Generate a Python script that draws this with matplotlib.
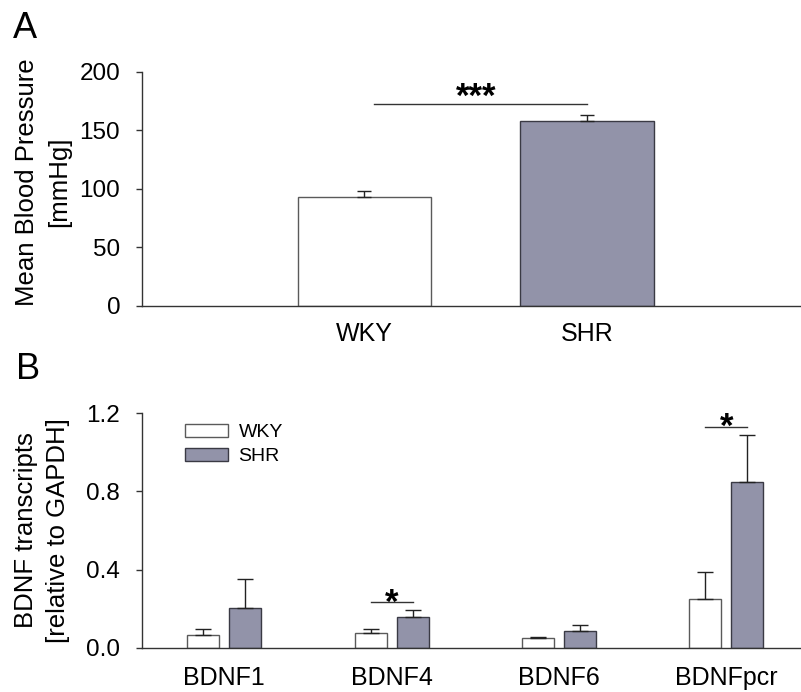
import matplotlib
matplotlib.use("Agg")
import matplotlib.pyplot as plt
import numpy as np

plt.rcParams['font.family'] = ['Liberation Sans', 'DejaVu Sans']

# panel A - mean blood pressure
groups_a = ["WKY", "SHR"]
bp_mean = [93.4, 157.7]
bp_sem = [4.6, 5.5]

# panel B - BDNF transcripts
transcripts = ["BDNF1", "BDNF4", "BDNF6", "BDNFpcr"]
wky_mean = [0.063, 0.077, 0.048, 0.251]
wky_sem = [0.033, 0.017, 0.008, 0.138]
shr_mean = [0.205, 0.159, 0.085, 0.847]
shr_sem = [0.145, 0.034, 0.031, 0.241]

WKY_FILL = "white"
SHR_FILL = "#9293a9"
EDGE_WKY = "#5a5a5a"
EDGE_SHR = "#3a3a44"
AXC = "#333333"

fig = plt.figure(figsize=(8.01, 6.92), dpi=100)


def style_axes(ax, pad_x):
    for s in ["top", "right"]:
        ax.spines[s].set_visible(False)
    for s in ["left", "bottom"]:
        ax.spines[s].set_color(AXC)
        ax.spines[s].set_linewidth(1.0)
    ax.tick_params(axis="y", direction="out", length=4.5, width=1.0,
                   color=AXC, labelsize=17.5, pad=11)
    ax.tick_params(axis="x", length=0, labelsize=18, pad=pad_x)


# ---- panel A ----
axA = fig.add_axes([141.7 / 801, 1 - 305.7 / 692, 1 - 141.7 / 801, 233.7 / 692])
xa = np.arange(1, len(groups_a) + 1)
axA.bar(xa, bp_mean, width=0.6, color=[WKY_FILL, SHR_FILL],
        edgecolor=[EDGE_WKY, EDGE_SHR], linewidth=1.0, zorder=2)
axA.errorbar(xa, bp_mean, yerr=[np.zeros(len(xa)), bp_sem], fmt="none",
             ecolor="#222222", elinewidth=1.0, capsize=5, capthick=1.0, zorder=3)
axA.set_xlim(0, 2.96)
axA.set_ylim(0, 200)
axA.set_yticks([0, 50, 100, 150, 200])
axA.set_xticks(xa)
axA.set_xticklabels(groups_a)
style_axes(axA, 11.5)
axA.set_ylabel("Mean Blood Pressure\n[mmHg]", fontsize=18.5, linespacing=1.45)
axA.yaxis.set_label_coords(-0.107, 0.53)
axA.plot([1.045, 2.0], [173, 173], color=AXC, lw=1.0, zorder=3)
axA.text(1.5, 170.5, "***", ha="center", va="baseline", fontsize=25,
         fontweight="bold")

# ---- panel B ----
axB = fig.add_axes([141.7 / 801, 1 - 647.7 / 692, 1 - 141.7 / 801, 234.4 / 692])
xb = np.arange(len(transcripts))
off = 0.1255
bw = 0.191
axB.bar(xb - off, wky_mean, width=bw, color=WKY_FILL, edgecolor=EDGE_WKY,
        linewidth=1.0, label="WKY", zorder=2)
axB.bar(xb + off, shr_mean, width=bw, color=SHR_FILL, edgecolor=EDGE_SHR,
        linewidth=1.0, label="SHR", zorder=2)
axB.errorbar(xb - off, wky_mean, yerr=[np.zeros(len(xb)), wky_sem], fmt="none",
             ecolor="#222222", elinewidth=1.0, capsize=5.5, capthick=1.0, zorder=3)
axB.errorbar(xb + off, shr_mean, yerr=[np.zeros(len(xb)), shr_sem], fmt="none",
             ecolor="#222222", elinewidth=1.0, capsize=5.5, capthick=1.0, zorder=3)
axB.set_xlim(-0.494, 3.446)
axB.set_ylim(0, 1.2)
axB.set_yticks([0.0, 0.4, 0.8, 1.2])
axB.set_yticklabels(["0.0", "0.4", "0.8", "1.2"])
axB.set_xticks(xb)
axB.set_xticklabels(transcripts)
style_axes(axB, 13)
axB.set_ylabel("BDNF transcripts\n[relative to GAPDH]", fontsize=18.5, linespacing=1.4)
axB.yaxis.set_label_coords(-0.109, 0.5)

axB.plot([1 - off, 1 + off], [0.232, 0.232], color=AXC, lw=1.0, zorder=3)
axB.text(1, 0.178, "*", ha="center", va="baseline", fontsize=25, fontweight="bold")
axB.plot([3 - off, 3 + off], [1.132, 1.132], color=AXC, lw=1.0, zorder=3)
axB.text(3, 1.079, "*", ha="center", va="baseline", fontsize=25, fontweight="bold")

axB.legend(loc="upper left", bbox_to_anchor=(0.0658, 0.955), frameon=False,
           fontsize=14, handlelength=2.2, handleheight=0.7, handletextpad=0.55,
           labelspacing=0.32, borderpad=0, borderaxespad=0)

# panel letters
fig.text(13 / 801, 1 - 11 / 692, "A", fontsize=26, ha="left", va="top")
fig.text(16 / 801, 1 - 352 / 692, "B", fontsize=26, ha="left", va="top")

fig.savefig("out.png", dpi=100)
